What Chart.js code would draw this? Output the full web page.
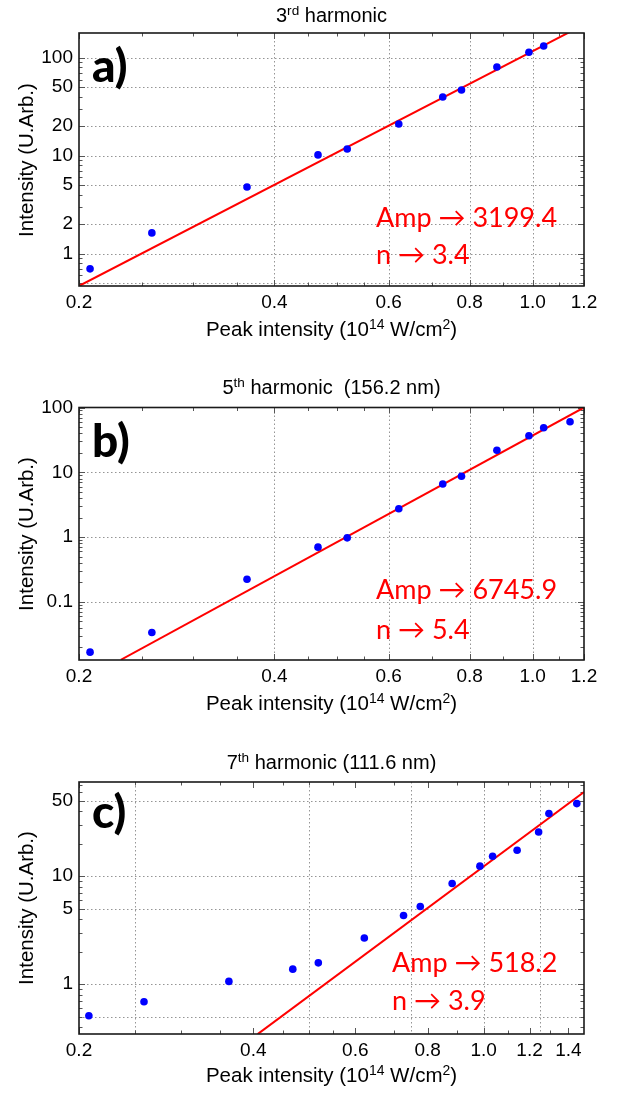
<!DOCTYPE html>
<html><head><meta charset="utf-8">
<script src="https://cdn.jsdelivr.net/npm/chart.js@4.4.1/dist/chart.umd.min.js"></script>
<style>
body{margin:0;background:#fff;}
#wrap{position:relative;width:624px;height:1095px;overflow:hidden;background:#fff;}
canvas{position:absolute;left:0;}
.t{position:absolute;white-space:nowrap;font-family:"Liberation Sans",Arial,sans-serif;color:#000;line-height:1;}
.t sup{font-size:0.68em;vertical-align:0.48em;line-height:0;}
.ann{position:absolute;white-space:nowrap;font-family:Lato,"DejaVu Sans",sans-serif;color:#ff0000;line-height:1;}
.lab{position:absolute;white-space:nowrap;font-family:Lato,sans-serif;font-weight:900;color:#000;line-height:1;}
</style></head>
<body><div id="wrap"></div>
<script>
// ---------- data ----------
// a) 3rd harmonic
const xA = [0.208, 0.259, 0.363, 0.467, 0.518, 0.622, 0.727, 0.777, 0.881, 0.987, 1.04];
const yA = [0.70, 1.63, 4.8, 10.2, 11.7, 21.1, 39.8, 46.8, 80.4, 114, 132];
const fitXA = [0.2, 1.2];
const fitYA = [0.468, 218];
// b) 5th harmonic
const xB = [0.208, 0.259, 0.363, 0.467, 0.518, 0.622, 0.727, 0.777, 0.881, 0.987, 1.04, 1.142];
const yB = [0.0168, 0.0338, 0.224, 0.70, 0.975, 2.74, 6.6, 8.67, 21.9, 36.6, 48.7, 60.3];
const fitXB = [0.232, 1.2];
const fitYB = [0.0128, 100];
// c) 7th harmonic
const xC = [0.208, 0.259, 0.363, 0.468, 0.518, 0.622, 0.727, 0.777, 0.882, 0.985, 1.036, 1.142, 1.244, 1.296, 1.448];
const yC = [0.509, 0.686, 1.06, 1.377, 1.575, 2.68, 4.33, 5.24, 8.56, 12.4, 15.3, 17.4, 25.7, 38.1, 47.1];
const fitXC = [0.407, 1.49];
const fitYC = [0.344, 60.3];

// ---------- ticks / labels ----------
const xTicksAB = [0.2, 0.4, 0.6, 0.8, 1.0, 1.2];
const xLabelsAB = ['0.2', '0.4', '0.6', '0.8', '1.0', '1.2'];
const xTicksC = [0.2, 0.4, 0.6, 0.8, 1.0, 1.2, 1.4];
const xLabelsC = ['0.2', '0.4', '0.6', '0.8', '1.0', '1.2', '1.4'];
const yTicksA = [1, 2, 5, 10, 20, 50, 100];
const yLabelsA = ['1', '2', '5', '10', '20', '50', '100'];
const yTicksB = [0.1, 1, 10, 100];
const yLabelsB = ['0.1', '1', '10', '100'];
const yTicksC = [1, 5, 10, 50];
const yLabelsC = ['1', '5', '10', '50'];
const gridXAB = [0.4, 0.6, 0.8, 1.0];
const gridXC = [0.25, 0.5, 0.75, 1.0, 1.25];
const gridYA = [0.5, 1, 2, 5, 10, 20, 50, 100];
const gridYB = [0.1, 1, 10];
const gridYC = [0.5, 1, 5, 10, 50];
const xMinorAB = [0.25, 0.3, 0.35, 0.45, 0.5, 0.55, 0.7, 0.9, 1.1];
const xMinorC = [0.25, 0.3, 0.35, 0.45, 0.5, 0.55, 0.7, 0.9, 1.1, 1.3];

function logMinors(lo, hi, majors) {
  const out = [];
  for (let e = Math.floor(Math.log10(lo)); e <= Math.ceil(Math.log10(hi)); e++) {
    for (let m = 1; m <= 9; m++) {
      const v = +(m * Math.pow(10, e)).toPrecision(6);
      if (v >= lo && v <= hi && !majors.includes(v)) out.push(v);
    }
  }
  return out;
}

const panels = [
  {id: 'a', top: 0, h: 345, plotTop: 33, plotBottom: 286, xmin: 0.2, xmax: 1.2, ymin: 0.468, ymax: 179,
   xs: xA, ys: yA, fx: fitXA, fy: fitYA, xTicks: xTicksAB, xLabels: xLabelsAB, yTicks: yTicksA, yLabels: yLabelsA,
   gridX: gridXAB, gridY: gridYA, xMinor: xMinorAB},
  {id: 'b', top: 370, h: 345, plotTop: 407.5, plotBottom: 660, xmin: 0.2, xmax: 1.2, ymin: 0.0127, ymax: 100,
   xs: xB, ys: yB, fx: fitXB, fy: fitYB, xTicks: xTicksAB, xLabels: xLabelsAB, yTicks: yTicksB, yLabels: yLabelsB,
   gridX: gridXAB, gridY: gridYB, xMinor: xMinorAB},
  {id: 'c', top: 745, h: 345, plotTop: 782, plotBottom: 1034, xmin: 0.2, xmax: 1.49, ymin: 0.345, ymax: 74.7,
   xs: xC, ys: yC, fx: fitXC, fy: fitYC, xTicks: xTicksC, xLabels: xLabelsC, yTicks: yTicksC, yLabels: yLabelsC,
   gridX: gridXC, gridY: gridYC, xMinor: xMinorC}
];

function framePlugin(p) {
  const yMinor = logMinors(p.ymin, p.ymax, p.yTicks);
  return {
    id: 'frame_' + p.id,
    beforeDatasetsDraw(chart) {
      const {ctx, chartArea: a, scales: {x, y}} = chart;
      ctx.save();
      ctx.strokeStyle = '#959595'; ctx.lineWidth = 1; ctx.setLineDash([1.5, 2.5]);
      p.gridX.forEach(v => {
        const px = Math.round(x.getPixelForValue(v)) + 0.5;
        ctx.beginPath(); ctx.moveTo(px, a.top); ctx.lineTo(px, a.bottom); ctx.stroke();
      });
      p.gridY.forEach(v => {
        const py = Math.round(y.getPixelForValue(v)) + 0.5;
        ctx.beginPath(); ctx.moveTo(a.left, py); ctx.lineTo(a.right, py); ctx.stroke();
      });
      ctx.setLineDash([]);
      ctx.strokeStyle = '#555'; ctx.lineWidth = 1;
      const tx = (v, len) => {
        const px = Math.round(x.getPixelForValue(v)) + 0.5;
        ctx.beginPath(); ctx.moveTo(px, a.bottom); ctx.lineTo(px, a.bottom - len);
        ctx.moveTo(px, a.top); ctx.lineTo(px, a.top + len); ctx.stroke();
      };
      const ty = (v, len) => {
        const py = Math.round(y.getPixelForValue(v)) + 0.5;
        ctx.beginPath(); ctx.moveTo(a.left, py); ctx.lineTo(a.left + len, py);
        ctx.moveTo(a.right, py); ctx.lineTo(a.right - len, py); ctx.stroke();
      };
      p.xTicks.forEach(v => tx(v, 6)); p.xMinor.forEach(v => tx(v, 3.5));
      p.yTicks.forEach(v => ty(v, 6)); yMinor.forEach(v => ty(v, 3.5));
      ctx.restore();
    },
    afterDatasetsDraw(chart) {
      const {ctx, chartArea: a} = chart;
      ctx.save();
      ctx.strokeStyle = '#1a1a1a'; ctx.lineWidth = 1.6;
      ctx.strokeRect(a.left, a.top, a.right - a.left, a.bottom - a.top);
      ctx.restore();
    }
  };
}

const wrap = document.getElementById('wrap');
const tickFont = {family: "'Liberation Sans', Arial, sans-serif", size: 19};

panels.forEach(p => {
  const cv = document.createElement('canvas');
  cv.width = 624; cv.height = p.h;
  cv.style.top = p.top + 'px'; cv.style.width = '624px'; cv.style.height = p.h + 'px';
  wrap.appendChild(cv);
  const xAxisH = p.h - (p.plotBottom - p.top);
  new Chart(cv, {
    type: 'scatter',
    data: {datasets: [
      {data: p.xs.map((x, i) => ({x: x, y: p.ys[i]})), backgroundColor: '#0000ff', borderWidth: 0,
       pointRadius: 3.8, pointHoverRadius: 3.8},
      {data: p.fx.map((x, i) => ({x: x, y: p.fy[i]})), showLine: true, borderColor: '#ff0000',
       borderWidth: 2, pointRadius: 0, fill: false}
    ]},
    options: {
      responsive: false, animation: false, events: [],
      layout: {padding: {left: 0, right: 40, top: p.plotTop - p.top, bottom: 0}},
      plugins: {legend: {display: false}, tooltip: {enabled: false}, title: {display: false}},
      scales: {
        x: {type: 'logarithmic', position: 'bottom', min: p.xmin, max: p.xmax, bounds: 'data',
            grid: {display: false, drawTicks: false}, border: {display: false},
            afterBuildTicks: s => { s.ticks = p.xTicks.map(v => ({value: v})); },
            afterFit: s => { s.height = xAxisH; },
            ticks: {callback: (v, i) => p.xLabels[i], font: tickFont, color: '#000', padding: 5,
                    maxRotation: 0, minRotation: 0, autoSkip: false}},
        y: {type: 'logarithmic', position: 'left', min: p.ymin, max: p.ymax, bounds: 'data',
            grid: {display: false, drawTicks: false}, border: {display: false},
            afterBuildTicks: s => { s.ticks = p.yTicks.map(v => ({value: v})); },
            afterFit: s => { s.width = 79; },
            ticks: {callback: (v, i) => p.yLabels[i], font: tickFont, color: '#000', padding: 6, autoSkip: false}}
      }
    },
    plugins: [framePlugin(p)]
  });
});

// ---------- text overlays ----------
const LIB = 0.8465, LATO = 0.887;
function addText(cls, html, x, baseline, fs, metric, center) {
  const d = document.createElement('div');
  d.className = cls; d.innerHTML = html;
  d.style.fontSize = fs + 'px';
  d.style.left = x + 'px';
  d.style.top = (baseline - metric * fs) + 'px';
  if (center) d.style.transform = 'translateX(-50%)';
  wrap.appendChild(d);
  return d;
}
const titles = ['3<sup>rd</sup> harmonic', '5<sup>th</sup> harmonic&nbsp; (156.2 nm)', '7<sup>th</sup> harmonic (111.6 nm)'];
const letters = ['a)', 'b)', 'c)'];
const ampText = ['Amp → 3199.4', 'Amp → 6745.9', 'Amp → 518.2'];
const nText = ['n → 3.4', 'n → 5.4', 'n → 3.9'];
const xTitle = 'Peak intensity (10<sup>14</sup> W/cm<sup>2</sup>)';
const yTitle = 'Intensity (U.Arb.)';

const textPos = [
  {title: 21.5, letter: 83, ampX: 376, amp: 227, n: 264, xt: 336},
  {title: 394, letter: 458, ampX: 376, amp: 599, n: 639, xt: 710},
  {title: 769, letter: 829, ampX: 392, amp: 972, n: 1010, xt: 1082}
];
panels.forEach((p, k) => {
  const tp = textPos[k];
  addText('t', titles[k], 331.5, tp.title, 20, LIB, true);
  addText('lab', letters[k], 92, tp.letter, 46, LATO, false);
  addText('ann', ampText[k], tp.ampX, tp.amp, 27, LATO, false);
  addText('ann', nText[k], tp.ampX, tp.n, 27, LATO, false);
  addText('t', xTitle, 331.5, tp.xt, 20.5, LIB, true);
  const cy = (p.plotTop + p.plotBottom) / 2;
  const d = document.createElement('div');
  d.className = 't'; d.textContent = yTitle; d.style.fontSize = '20.5px';
  d.style.left = '26px'; d.style.top = cy + 'px';
  d.style.transform = 'translate(-50%,-50%) rotate(-90deg)';
  wrap.appendChild(d);
});
</script>
</body></html>
